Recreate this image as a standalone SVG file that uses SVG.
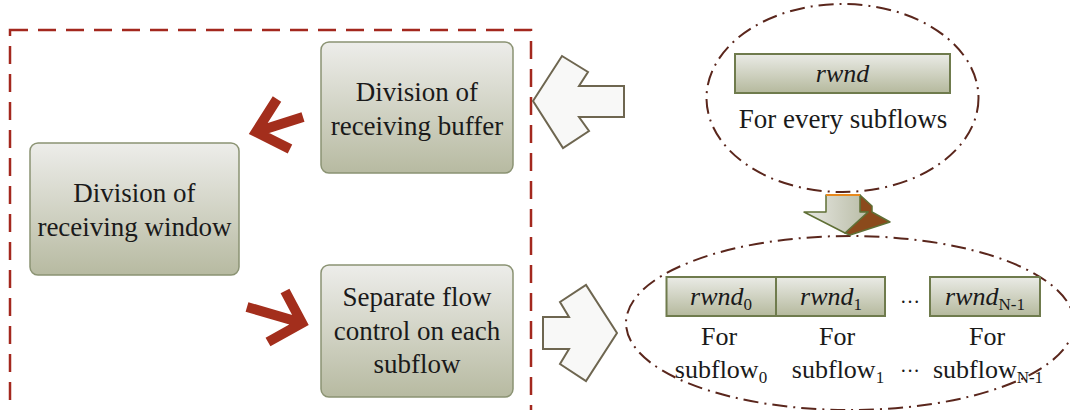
<svg xmlns="http://www.w3.org/2000/svg" width="1070" height="410" viewBox="0 0 1070 410">
  <defs>
    <linearGradient id="boxFill" x1="0" y1="0" x2="0" y2="1">
      <stop offset="0" stop-color="#ededea"/>
      <stop offset="1" stop-color="#b7baa1"/>
    </linearGradient>
    <linearGradient id="cellFill" x1="0" y1="0" x2="0" y2="1">
      <stop offset="0" stop-color="#eaebe6"/>
      <stop offset="1" stop-color="#b5b99d"/>
    </linearGradient>
    <linearGradient id="downFill" x1="0" y1="0" x2="1" y2="0">
      <stop offset="0" stop-color="#e8e9e4"/>
      <stop offset="1" stop-color="#b9bca6"/>
    </linearGradient>
    <style>
      .box { fill: url(#boxFill); stroke: #8b9373; stroke-width: 1.5; }
      .cell { fill: url(#cellFill); stroke: #6f7b4d; stroke-width: 2; }
      .txt { font-family: "Liberation Serif", "Times New Roman", serif; font-size: 27px; fill: #1a1a1a; text-anchor: middle; }
      .sm { font-size: 26px; }
      .it { font-style: italic; }
      .sub { font-style: normal; font-size: 17px; }
      .red { fill: none; stroke: #a32e1c; stroke-width: 10; stroke-linejoin: miter; stroke-miterlimit: 10; }
      .block { fill: #f8f8f7; stroke: #6e6650; stroke-width: 2; stroke-linejoin: miter; }
      .oval { fill: none; stroke: #5a261c; stroke-width: 2; stroke-dasharray: 15 6 2 6; }
      .frame { fill: none; stroke: #a3281e; stroke-width: 2.5; stroke-dasharray: 18 10; }
    </style>
  </defs>

  <!-- region grouping the receiver-side tasks -->
  <rect class="frame" x="10" y="30" width="521" height="420"/>

  <!-- dash-dot groupings on the right -->
  <ellipse class="oval" cx="842.5" cy="98" rx="136" ry="94"/>
  <ellipse class="oval" cx="850" cy="323" rx="224" ry="87"/>

  <g id="node-buffer">
    <rect class="box" x="321" y="42" width="192" height="131" rx="8"/>
    <text class="txt" x="417" y="101">Division of</text>
    <text class="txt" x="417" y="135">receiving buffer</text>
  </g>

  <g id="node-window">
    <rect class="box" x="30" y="143" width="209" height="132" rx="8"/>
    <text class="txt" x="134.5" y="202">Division of</text>
    <text class="txt" x="134.5" y="236">receiving window</text>
  </g>

  <g id="node-flowctl">
    <rect class="box" x="321" y="265" width="192" height="132" rx="8"/>
    <text class="txt" x="417" y="306">Separate flow</text>
    <text class="txt" x="417" y="340">control on each</text>
    <text class="txt" x="417" y="373">subflow</text>
  </g>

  <g id="node-shared">
    <rect class="cell" x="735" y="54" width="215" height="39"/>
    <text class="txt sm it" x="842.5" y="82">rwnd</text>
    <text class="txt" x="843" y="128">For every subflows</text>
  </g>

  <g id="node-per-subflow">
    <rect class="cell" x="666.5" y="277" width="109.5" height="39"/>
    <rect class="cell" x="776" y="277" width="109" height="39"/>
    <rect class="cell" x="930" y="277" width="110" height="39"/>
    <text class="txt sm" x="721" y="305"><tspan class="it">rwnd</tspan><tspan class="sub" dy="5">0</tspan></text>
    <text class="txt sm" x="831" y="305"><tspan class="it">rwnd</tspan><tspan class="sub" dy="5">1</tspan></text>
    <text class="txt sm" x="910" y="303" style="font-size:20px">…</text>
    <text class="txt sm" x="985" y="305"><tspan class="it">rwnd</tspan><tspan class="sub" dy="5">N-1</tspan></text>

    <text class="txt sm" x="719" y="345">For</text>
    <text class="txt sm" x="837" y="345">For</text>
    <text class="txt sm" x="987" y="345">For</text>
    <text class="txt sm" x="721" y="378">subflow<tspan class="sub" dy="5">0</tspan></text>
    <text class="txt sm" x="838" y="378">subflow<tspan class="sub" dy="5">1</tspan></text>
    <text class="txt sm" x="910" y="378" style="font-size:20px">···</text>
    <text class="txt sm" x="988" y="378">subflow<tspan class="sub" dy="5">N-1</tspan></text>
  </g>

  <g id="connectors">
    <!-- buffer division feeds the window division -->
    <path class="red" d="M303,117 L256,132 M277,99 L256,132 L290,149"/>
    <!-- window division drives per-subflow flow control -->
    <path class="red" d="M247,307 L302,323 M285,291 L302,323 L268,342"/>
    <!-- block arrows crossing the frame -->
    <polygon class="block" points="533,101 562,56 588,72 579,86 624,86 624,117 579,117 589,131 563,148"/>
    <polygon class="block" points="617,333 586,285 560,302 569,317 543,317 543,349 569,349 560,364 586,381"/>
    <!-- 3D down arrow from the shared window to the per-subflow windows -->
    <polygon points="860,195 872,206 872,212 890,222 850,235 845,233 868,212 860,212" fill="#8b4a1c" stroke="#5f6f35" stroke-width="1.5" stroke-linejoin="round"/>
    <polygon points="826,195 860,195 860,212 868,212 845,233 804,212 826,212" fill="url(#downFill)" stroke="#5f6f35" stroke-width="1.5" stroke-linejoin="round"/>
    <line x1="826" y1="195" x2="860" y2="195" stroke="#e8891e" stroke-width="2"/>
  </g>
</svg>
